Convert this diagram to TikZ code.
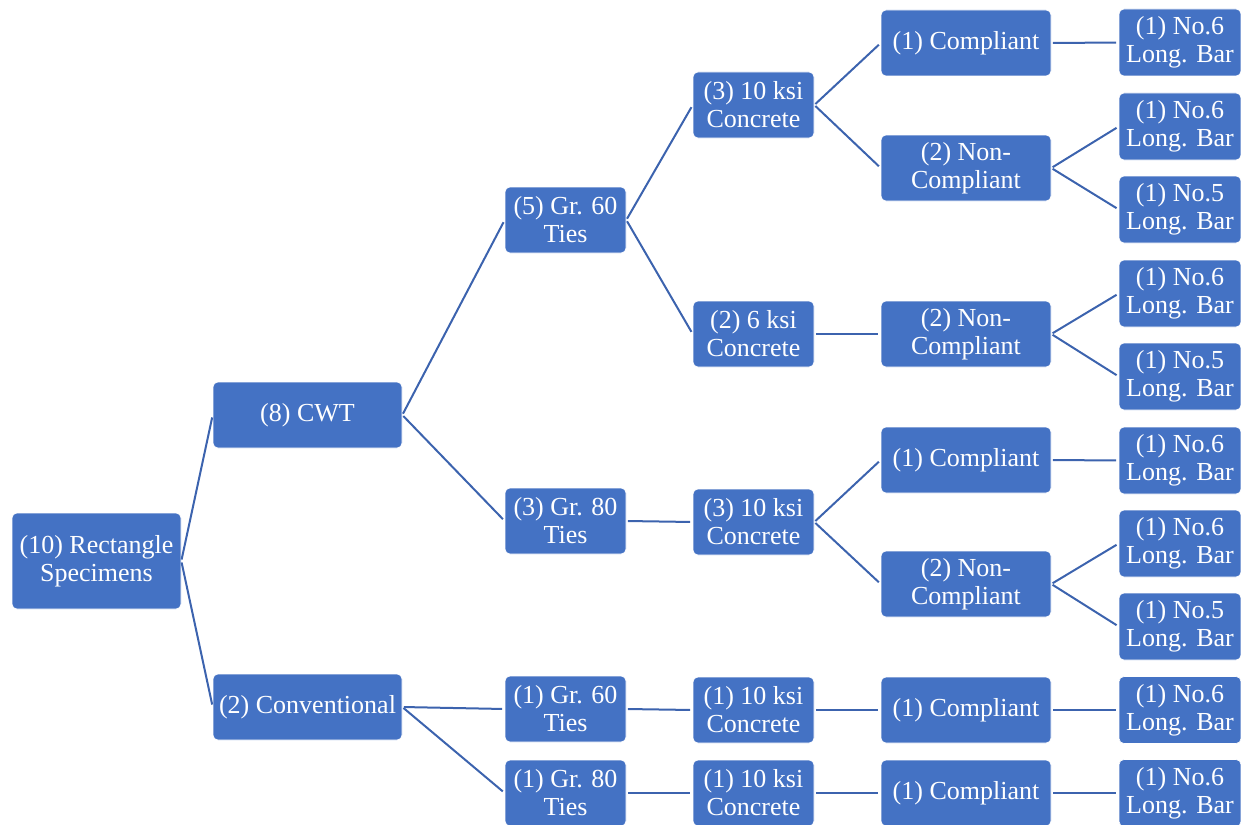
\documentclass[tikz,border=0pt]{standalone}
\usepackage{fontspec}
\setmainfont{Liberation Serif}
\definecolor{boxblue}{HTML}{4472C4}
\definecolor{lineblue}{HTML}{3C63AE}
\begin{document}
\begin{tikzpicture}[x=1pt,y=-1pt,
  box/.style={fill=boxblue, draw=white, line width=0.6pt, rounded corners=5pt, text=white,
    align=center, inner sep=0pt, minimum height=66pt,
    font=\fontsize{26}{28}\selectfont},
  lvA/.style={box, minimum width=189pt},
  lvB/.style={box, minimum width=121pt},
  lvC/.style={box, minimum width=170pt},
  lvD/.style={box, minimum width=122pt, minimum height=67pt},
  conn/.style={draw=lineblue, line width=2pt, shorten <=1.5pt, shorten >=2.5pt}]
\useasboundingbox (0,0) rectangle (1241,824);
\clip (0,0) rectangle (1241,824);
% root
\node[box, minimum width=169pt, minimum height=96pt] (root) at (96.5,561) {(10) Rectangle\\Specimens};
% level 2
\node[lvA] (cwt) at (307.5,415) {(8) CWT};
\node[lvA] (conv) at (307.5,707) {(2) Conventional};
% level 3
\node[lvB] (gA) at (565.5,220) {(5) Gr. 60\\Ties};
\node[lvB] (gB) at (565.5,521) {(3) Gr. 80\\Ties};
\node[lvB] (gC) at (565.5,709) {(1) Gr. 60\\Ties};
\node[lvB] (gD) at (565.5,793) {(1) Gr. 80\\Ties};
% level 4
\node[lvB] (cA) at (753.5,105) {(3) 10 ksi\\Concrete};
\node[lvB] (cB) at (753.5,334) {(2) 6 ksi\\Concrete};
\node[lvB] (cC) at (753.5,522) {(3) 10 ksi\\Concrete};
\node[lvB] (cD) at (753.5,710) {(1) 10 ksi\\Concrete};
\node[lvB] (cE) at (753.5,793) {(1) 10 ksi\\Concrete};
% level 5
\node[lvC] (kA) at (966,43) {(1) Compliant};
\node[lvC] (kB) at (966,168) {(2) Non-\\Compliant};
\node[lvC] (kC) at (966,334) {(2) Non-\\Compliant};
\node[lvC] (kD) at (966,460) {(1) Compliant};
\node[lvC] (kE) at (966,584) {(2) Non-\\Compliant};
\node[lvC] (kF) at (966,710) {(1) Compliant};
\node[lvC] (kG) at (966,793) {(1) Compliant};
% level 6
\node[lvD] (bA) at (1180,42.5) {(1) No.6\\Long. Bar};
\node[lvD] (bB) at (1180,126.5) {(1) No.6\\Long. Bar};
\node[lvD] (bC) at (1180,209.5) {(1) No.5\\Long. Bar};
\node[lvD] (bD) at (1180,293.5) {(1) No.6\\Long. Bar};
\node[lvD] (bE) at (1180,376.5) {(1) No.5\\Long. Bar};
\node[lvD] (bF) at (1180,460.5) {(1) No.6\\Long. Bar};
\node[lvD] (bG) at (1180,543.5) {(1) No.6\\Long. Bar};
\node[lvD] (bH) at (1180,626.5) {(1) No.5\\Long. Bar};
\node[lvD] (bI) at (1180,710) {(1) No.6\\Long. Bar};
\node[lvD] (bJ) at (1180,793) {(1) No.6\\Long. Bar};
% connectors
\foreach \a/\b in {root/cwt, root/conv, cwt/gA, cwt/gB, conv/gC, conv/gD,
  gA/cA, gA/cB, gB/cC, gC/cD, gD/cE,
  cA/kA, cA/kB, cB/kC, cC/kD, cC/kE, cD/kF, cE/kG,
  kA/bA, kB/bB, kB/bC, kC/bD, kC/bE, kD/bF, kE/bG, kE/bH, kF/bI, kG/bJ}
  \draw[conn] (\a.east) -- (\b.west);
\end{tikzpicture}
\end{document}
